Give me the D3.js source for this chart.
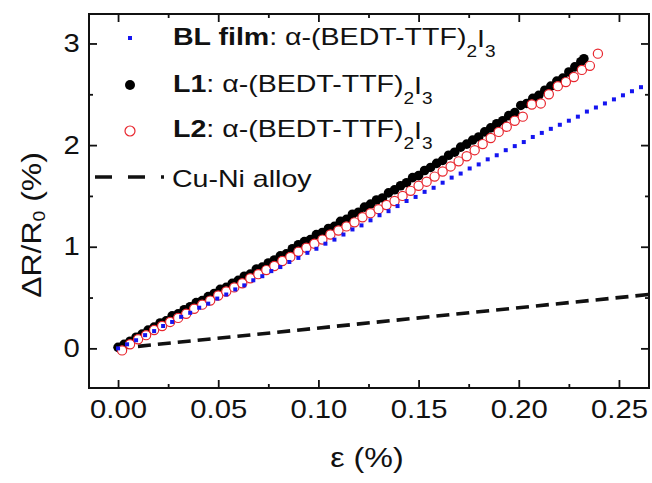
<!DOCTYPE html>
<html>
<head>
<meta charset="utf-8">
<script src="https://cdn.jsdelivr.net/npm/d3@7"></script>
<style>
  body { margin: 0; background: #fff; }
  text { font-family: Arial, "Liberation Sans", sans-serif; fill: #111; }
</style>
</head>
<body>
<svg id="chart" width="652" height="483"></svg>
<script>
// BL film: blue squares
const blEps = [0, 0.0045, 0.009, 0.0135, 0.018, 0.0225, 0.027, 0.0315, 0.036, 0.0405,
  0.045, 0.0495, 0.054, 0.0585, 0.063, 0.0675, 0.072, 0.0765, 0.081, 0.0855,
  0.09, 0.0945, 0.099, 0.1035, 0.108, 0.1125, 0.117, 0.1215, 0.126, 0.1305,
  0.135, 0.1395, 0.144, 0.1485, 0.153, 0.1575, 0.162, 0.1665, 0.171, 0.1755,
  0.18, 0.1845, 0.189, 0.1935, 0.198, 0.2025, 0.207, 0.2115, 0.216, 0.2205,
  0.225, 0.2295, 0.234, 0.2385, 0.243, 0.2475, 0.252, 0.2565, 0.261];
const blDR = [0.00, 0.04, 0.08, 0.13, 0.17, 0.22, 0.26, 0.31, 0.35, 0.40,
  0.44, 0.49, 0.53, 0.58, 0.62, 0.67, 0.71, 0.76, 0.80, 0.85,
  0.89, 0.94, 0.98, 1.03, 1.07, 1.12, 1.17, 1.21, 1.26, 1.31,
  1.35, 1.40, 1.45, 1.49, 1.54, 1.58, 1.63, 1.68, 1.72, 1.77,
  1.81, 1.86, 1.90, 1.95, 1.99, 2.03, 2.08, 2.12, 2.16, 2.20,
  2.24, 2.28, 2.33, 2.37, 2.41, 2.45, 2.49, 2.53, 2.57];

// L1: black filled circles
const l1Eps = [0, 0.003, 0.006, 0.009, 0.012, 0.015, 0.018, 0.021, 0.024, 0.027,
  0.030, 0.033, 0.036, 0.039, 0.042, 0.045, 0.048, 0.051, 0.054, 0.057,
  0.060, 0.063, 0.066, 0.069, 0.072, 0.075, 0.078, 0.081, 0.084, 0.087,
  0.090, 0.093, 0.096, 0.099, 0.102, 0.105, 0.108, 0.111, 0.114, 0.117,
  0.120, 0.123, 0.126, 0.129, 0.132, 0.135, 0.138, 0.141, 0.144, 0.147,
  0.150, 0.153, 0.156, 0.159, 0.162, 0.165, 0.168, 0.171, 0.174, 0.177,
  0.180, 0.183, 0.186, 0.189, 0.192, 0.195, 0.198, 0.201, 0.204, 0.207,
  0.210, 0.213, 0.216, 0.219, 0.222, 0.225, 0.228, 0.231, 0.2325];
const l1DR = [0.01, 0.04, 0.07, 0.11, 0.14, 0.18, 0.21, 0.25, 0.27, 0.32,
  0.34, 0.38, 0.41, 0.45, 0.47, 0.51, 0.54, 0.58, 0.60, 0.64,
  0.67, 0.71, 0.73, 0.78, 0.80, 0.84, 0.87, 0.91, 0.93, 0.98,
  1.02, 1.05, 1.07, 1.12, 1.14, 1.18, 1.20, 1.25, 1.27, 1.32,
  1.34, 1.39, 1.42, 1.46, 1.48, 1.53, 1.56, 1.60, 1.63, 1.68,
  1.70, 1.75, 1.78, 1.82, 1.85, 1.90, 1.93, 1.98, 2.01, 2.05,
  2.08, 2.13, 2.17, 2.21, 2.24, 2.29, 2.32, 2.39, 2.41, 2.46,
  2.49, 2.54, 2.58, 2.63, 2.66, 2.72, 2.77, 2.82, 2.85];

// L2: red open circles
const l2Eps = [0.002, 0.006, 0.010, 0.014, 0.018, 0.022, 0.026, 0.030, 0.034, 0.038,
  0.042, 0.046, 0.050, 0.054, 0.058, 0.062, 0.066, 0.070, 0.074, 0.078,
  0.082, 0.086, 0.090, 0.094, 0.098, 0.102, 0.106, 0.110, 0.114, 0.118,
  0.122, 0.126, 0.130, 0.134, 0.138, 0.142, 0.146, 0.150, 0.154, 0.158,
  0.162, 0.166, 0.170, 0.174, 0.178, 0.182, 0.186, 0.190, 0.194, 0.198,
  0.202, 0.2065, 0.211, 0.215, 0.2195, 0.2235, 0.2275, 0.2315, 0.2355, 0.2395];
const l2DR = [-0.02, 0.04, 0.09, 0.13, 0.18, 0.22, 0.26, 0.30, 0.34, 0.39,
  0.43, 0.47, 0.52, 0.56, 0.60, 0.64, 0.69, 0.73, 0.77, 0.81,
  0.86, 0.90, 0.95, 0.99, 1.03, 1.07, 1.12, 1.16, 1.20, 1.24,
  1.29, 1.33, 1.37, 1.41, 1.45, 1.50, 1.55, 1.60, 1.64, 1.69,
  1.74, 1.79, 1.84, 1.89, 1.95, 2.01, 2.07, 2.13, 2.18, 2.24,
  2.28, 2.40, 2.41, 2.50, 2.58, 2.62, 2.67, 2.74, 2.78, 2.90];

// Cu-Ni alloy reference line
const cuniEps = [0, 0.265];
const cuniDR = [0, 0.53];

const xMajor = [0, 0.05, 0.10, 0.15, 0.20, 0.25];
const xMinor = [0.025, 0.075, 0.125, 0.175, 0.225];
const yMajor = [0, 1, 2, 3];
const yMinor = [0.5, 1.5, 2.5];

const svg = d3.select('#chart');
const pLeft = 89, pRight = 649, pTop = 14, pBottom = 388;

const x = d3.scaleLinear().domain([-0.0145, 0.265]).range([pLeft, pRight]);
const y = d3.scaleLinear().domain([-0.39, 3.29]).range([pBottom, pTop]);

svg.append('clipPath').attr('id', 'clip')
  .append('rect')
  .attr('x', pLeft).attr('y', pTop)
  .attr('width', pRight - pLeft).attr('height', pBottom - pTop);

const plot = svg.append('g').attr('clip-path', 'url(#clip)');

// dashed Cu-Ni line
const cuni = cuniEps.map((e, i) => [e, cuniDR[i]]);
plot.append('path')
  .datum(cuni)
  .attr('d', d3.line().x(d => x(d[0])).y(d => y(d[1])))
  .attr('fill', 'none')
  .attr('stroke', '#111')
  .attr('stroke-width', 3.6)
  .attr('stroke-dasharray', '13,7');

// L1 black
plot.selectAll('.l1')
  .data(l1Eps.map((e, i) => [e, l1DR[i]]))
  .enter().append('circle')
  .attr('class', 'l1')
  .attr('cx', d => x(d[0]))
  .attr('cy', d => y(d[1]))
  .attr('r', 4.8)
  .attr('fill', '#000');

// L2 red open
plot.selectAll('.l2')
  .data(l2Eps.map((e, i) => [e, l2DR[i]]))
  .enter().append('circle')
  .attr('class', 'l2')
  .attr('cx', d => x(d[0]))
  .attr('cy', d => y(d[1]))
  .attr('r', 4.6)
  .attr('fill', '#fff')
  .attr('stroke', '#e8262e')
  .attr('stroke-width', 1.2);

// BL film blue
const sq = 4;
plot.selectAll('.bl')
  .data(blEps.map((e, i) => [e, blDR[i]]))
  .enter().append('rect')
  .attr('class', 'bl')
  .attr('x', d => x(d[0]) - sq / 2)
  .attr('y', d => y(d[1]) - sq / 2)
  .attr('width', sq).attr('height', sq)
  .attr('fill', '#1515f0');

// axes, ticks inward on all four sides
function styleAxis(g) {
  g.select('.domain').remove();
  g.selectAll('line').attr('stroke', '#111').attr('stroke-width', 1.8);
}

const xBot = svg.append('g').attr('transform', `translate(0,${pBottom})`)
  .call(d3.axisBottom(x).tickValues(xMajor).tickSize(-8).tickPadding(12)
    .tickFormat(d3.format('.2f')));
xBot.selectAll('text')
  .attr('font-size', 25)
  .attr('transform', 'scale(1.17,1)')
  .attr('fill', '#111');
styleAxis(xBot);
svg.append('g').attr('transform', `translate(0,${pBottom})`)
  .call(d3.axisBottom(x).tickValues(xMinor).tickSize(-4).tickFormat(''))
  .call(styleAxis);
svg.append('g').attr('transform', `translate(0,${pTop})`)
  .call(d3.axisTop(x).tickValues(xMajor).tickSize(-8).tickFormat(''))
  .call(styleAxis);
svg.append('g').attr('transform', `translate(0,${pTop})`)
  .call(d3.axisTop(x).tickValues(xMinor).tickSize(-4).tickFormat(''))
  .call(styleAxis);

const yLeft = svg.append('g').attr('transform', `translate(${pLeft},0)`)
  .call(d3.axisLeft(y).tickValues(yMajor).tickSize(-8).tickPadding(8)
    .tickFormat(d3.format('d')));
yLeft.selectAll('text')
  .attr('font-size', 25)
  .attr('transform', 'scale(1.17,1)')
  .attr('fill', '#111');
styleAxis(yLeft);
svg.append('g').attr('transform', `translate(${pLeft},0)`)
  .call(d3.axisLeft(y).tickValues(yMinor).tickSize(-4).tickFormat(''))
  .call(styleAxis);
svg.append('g').attr('transform', `translate(${pRight},0)`)
  .call(d3.axisRight(y).tickValues(yMajor).tickSize(-8).tickFormat(''))
  .call(styleAxis);
svg.append('g').attr('transform', `translate(${pRight},0)`)
  .call(d3.axisRight(y).tickValues(yMinor).tickSize(-4).tickFormat(''))
  .call(styleAxis);

// frame
svg.append('rect')
  .attr('x', pLeft).attr('y', pTop)
  .attr('width', pRight - pLeft).attr('height', pBottom - pTop)
  .attr('fill', 'none')
  .attr('stroke', '#111')
  .attr('stroke-width', 2);

// text made of runs: [string, size, dy, bold]
function richText(tx, ty, runs, opts) {
  const t = svg.append('text')
    .attr('transform', `translate(${tx},${ty})` + (opts.rotate ? ' rotate(-90)' : '') + ` scale(${opts.sx},1)`)
    .attr('text-anchor', opts.anchor || 'start');
  runs.forEach(r => {
    t.append('tspan')
      .attr('font-size', r[1])
      .attr('dy', r[2])
      .attr('font-weight', r[3] ? 'bold' : 'normal')
      .text(r[0]);
  });
  return t;
}

// axis titles
richText(367, 467, [['ε (%)', 28, 0]], { sx: 1.15, anchor: 'middle' });
richText(41, 225, [['ΔR/R', 28, 0], ['0', 17, 4], [' (%)', 28, -4]],
  { sx: 1.14, anchor: 'middle', rotate: true });

// legend
const legendNames = ['BL film', 'L1', 'L2'];
const legendBase = [45, 91.5, 137];
const formula = [[': α-(BEDT-TTF)', 24, 0], ['2', 16, 12], ['I', 24, -10], ['3', 16, 10]];

svg.append('rect')
  .attr('x', 130 - sq / 2).attr('y', 38 - sq / 2)
  .attr('width', sq).attr('height', sq)
  .attr('fill', '#1515f0');
svg.append('circle')
  .attr('cx', 130).attr('cy', 85).attr('r', 5)
  .attr('fill', '#000');
svg.append('circle')
  .attr('cx', 130).attr('cy', 131).attr('r', 5)
  .attr('fill', '#fff').attr('stroke', '#e8262e').attr('stroke-width', 1.2);
svg.append('line')
  .attr('x1', 95).attr('x2', 164).attr('y1', 177).attr('y2', 177)
  .attr('stroke', '#111').attr('stroke-width', 3.6)
  .attr('stroke-dasharray', '17,16');

legendNames.forEach((n, i) => {
  richText(173, legendBase[i], [[n, 24, 0, true]].concat(formula), { sx: 1.19 });
});
richText(172, 186.5, [['Cu-Ni alloy', 24, 0]], { sx: 1.19 });
</script>
</body>
</html>
